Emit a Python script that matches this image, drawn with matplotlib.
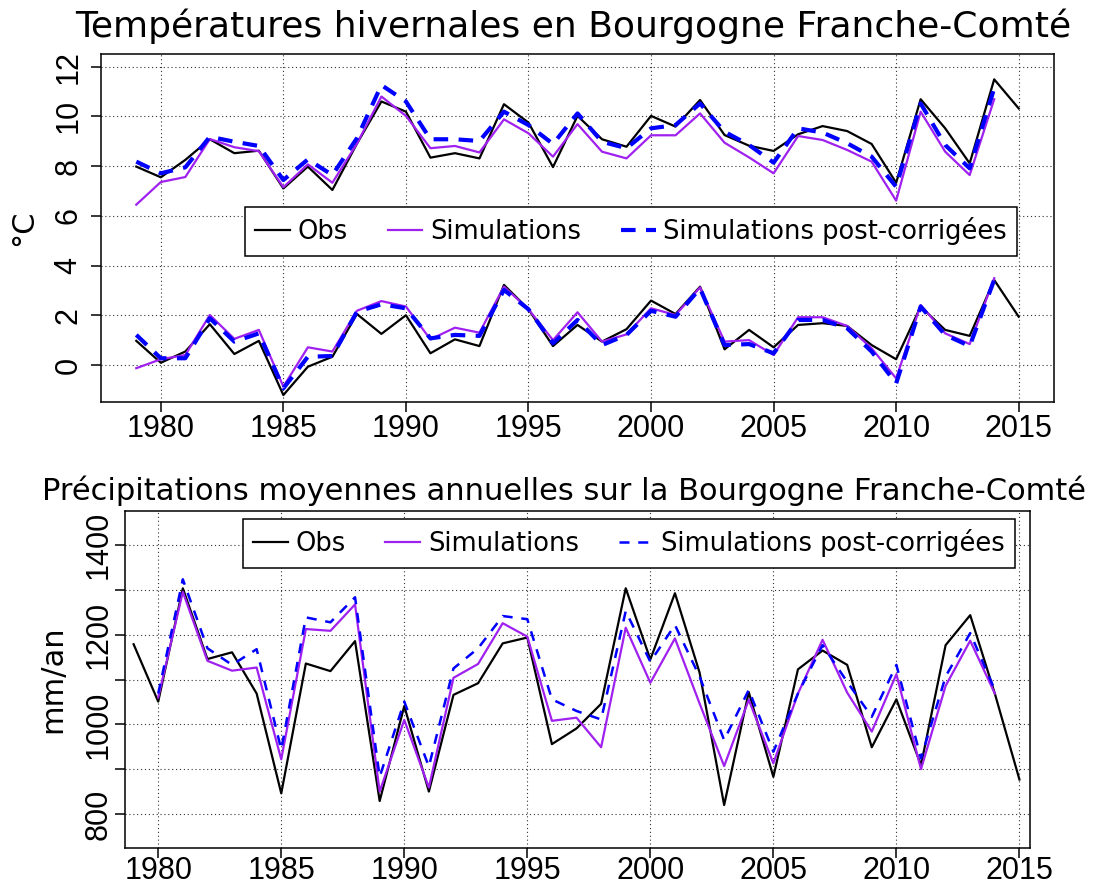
import numpy as np
import matplotlib
matplotlib.use("Agg")
import matplotlib.pyplot as plt

years = np.arange(1979, 2016)

# Températures hivernales - groupe haut (Tmax)
tx_obs = [7.98, 7.55, 8.25, 9.08, 8.52, 8.62, 7.10, 7.98, 7.04, 8.90, 10.60, 10.19,
          8.34, 8.52, 8.31, 10.49, 9.75, 7.96, 10.02, 9.08, 8.78, 10.02, 9.59, 10.66,
          9.25, 8.82, 8.61, 9.28, 9.61, 9.41, 8.89, 7.33, 10.69, 9.52, 8.11, 11.49, 10.32]
tx_sim = [6.45, 7.36, 7.56, 9.09, 8.76, 8.60, 7.15, 8.07, 7.33, 8.90, 10.80, 10.02,
          8.72, 8.81, 8.55, 9.88, 9.32, 8.38, 9.69, 8.58, 8.31, 9.24, 9.24, 10.12,
          8.94, 8.35, 7.71, 9.21, 9.05, 8.65, 8.18, 6.61, 10.19, 8.58, 7.64, 10.69]
tx_cor = [8.18, 7.71, 7.95, 9.18, 8.98, 8.81, 7.44, 8.27, 7.64, 9.12, 11.26, 10.60,
          9.08, 9.08, 9.01, 10.19, 9.65, 8.89, 10.12, 8.98, 8.72, 9.52, 9.65, 10.52,
          9.38, 8.85, 8.14, 9.52, 9.35, 8.92, 8.38, 7.17, 10.52, 8.85, 7.91, 11.13]

# Températures hivernales - groupe bas (Tmin)
tn_obs = [0.97, 0.09, 0.54, 1.64, 0.44, 0.97, -1.21, -0.07, 0.33, 2.05, 1.25, 2.00,
          0.47, 1.03, 0.76, 3.22, 2.24, 0.76, 1.61, 0.94, 1.44, 2.59, 2.05, 3.15,
          0.63, 1.41, 0.71, 1.61, 1.68, 1.57, 0.80, 0.23, 2.35, 1.41, 1.17, 3.42, 1.94]
tn_sim = [-0.13, 0.23, 0.40, 2.01, 1.05, 1.41, -0.87, 0.71, 0.54, 2.18, 2.57, 2.35,
          1.03, 1.50, 1.30, 3.15, 2.24, 1.00, 2.12, 0.94, 1.23, 2.28, 2.01, 3.12,
          0.94, 1.00, 0.40, 1.92, 1.92, 1.57, 0.67, -0.54, 2.41, 1.27, 0.84, 3.49]
tn_cor = [1.21, 0.27, 0.27, 1.88, 0.94, 1.27, -0.94, 0.33, 0.36, 2.14, 2.44, 2.28,
          1.07, 1.21, 1.17, 3.02, 2.24, 0.87, 1.81, 0.80, 1.21, 2.18, 1.94, 3.08,
          0.80, 0.84, 0.47, 1.81, 1.81, 1.48, 0.54, -0.74, 2.35, 1.21, 0.76, 3.42]

# Précipitations annuelles (mm/an)
pr_obs = [1179, 1051, 1304, 1146, 1161, 1069, 846, 1136, 1119, 1186, 829, 1041,
          850, 1066, 1092, 1181, 1194, 956, 991, 1046, 1304, 1145, 1293, 1116,
          820, 1072, 883, 1123, 1165, 1133, 949, 1056, 909, 1177, 1244, 1069, 877]
pr_sim = [1060, 1296, 1142, 1120, 1127, 922, 1213, 1209, 1268, 850, 1010,
          859, 1104, 1135, 1226, 1196, 1008, 1015, 949, 1216, 1093, 1192, 1047,
          907, 1055, 913, 1069, 1189, 1071, 984, 1112, 900, 1086, 1187, 1069]
pr_cor = [1069, 1324, 1170, 1133, 1168, 944, 1239, 1228, 1284, 883, 1051,
          906, 1125, 1170, 1242, 1235, 1056, 1030, 1011, 1253, 1140, 1222, 1107,
          965, 1077, 939, 1069, 1177, 1095, 1017, 1133, 924, 1107, 1204, 1077]

labels = ["Obs", "Simulations", "Simulations post-corrigées"]
PURPLE = "#A020F0"
TICKFONT = "Liberation Sans"

fig = plt.figure(figsize=(11.09, 8.92), dpi=100)
W, H = 1109, 892


def px_axes(l, t, r, b):
    return fig.add_axes([l / W, 1 - b / H, (r - l) / W, (b - t) / H])


def style(ax, ypad, xpad):
    for s in ax.spines.values():
        s.set_color("black")
        s.set_linewidth(1.1)
    ax.tick_params(direction="out", length=7.5, width=1.1)
    ax.tick_params(axis="y", pad=ypad)
    ax.tick_params(axis="x", pad=xpad)
    ax.grid(True, linestyle=(0, (1, 2.5)), color="#333333", linewidth=0.8)
    ax.set_axisbelow(True)
    for lab in ax.get_xticklabels() + ax.get_yticklabels():
        lab.set_fontfamily(TICKFONT)
        lab.set_fontsize(22)
    for lab in ax.get_yticklabels():
        lab.set_rotation(90)
        lab.set_va("center")


def legend(ax, handles, anchor):
    leg = ax.legend(handles, labels, ncol=3, loc="upper left", bbox_to_anchor=anchor,
                    borderaxespad=0, fontsize=18.5, fancybox=False, framealpha=1,
                    edgecolor="black", handlelength=1.35, columnspacing=1.55,
                    handletextpad=0.3, borderpad=0.4)
    leg.get_frame().set_linewidth(1.1)
    return leg


# --- panneau du haut
ax1 = px_axes(101, 54, 1054, 402)
l_obs, = ax1.plot(years, tx_obs, color="black", lw=1.6)
ax1.plot(years, tn_obs, color="black", lw=1.6)
l_sim, = ax1.plot(years[:len(tx_sim)], tx_sim, color=PURPLE, lw=1.6)
ax1.plot(years[:len(tn_sim)], tn_sim, color=PURPLE, lw=1.6)
l_cor, = ax1.plot(years[:len(tx_cor)], tx_cor, color="blue", lw=3, dashes=(3.5, 2.5))
ax1.plot(years[:len(tn_cor)], tn_cor, color="blue", lw=3, dashes=(3.5, 2.5))
ax1.set_xlim(1977.56, 2016.44)
ax1.set_ylim(-1.49, 12.51)
ax1.set_xticks(np.arange(1980, 2016, 5))
ax1.set_yticks(np.arange(0, 13, 2))
style(ax1, ypad=5, xpad=1)
ax1.set_ylabel("°C", fontsize=22, labelpad=11)
fig.text(573 / W, 1 - 36.7 / H, "Températures hivernales en Bourgogne Franche-Comté",
         fontsize=26, ha="center", va="baseline")
legend(ax1, [l_obs, l_sim, l_cor], (0.151, 0.560))

# --- panneau du bas
ax2 = px_axes(125, 511, 1030, 848)
b_obs, = ax2.plot(years, pr_obs, color="black", lw=1.6)
b_sim, = ax2.plot(years[1:1 + len(pr_sim)], pr_sim, color=PURPLE, lw=1.6)
b_cor, = ax2.plot(years[1:1 + len(pr_cor)], pr_cor, color="blue", lw=1.8, dashes=(4, 3.5))
ax2.set_xlim(1978.65, 2015.43)
ax2.set_ylim(724, 1476.6)
ax2.set_xticks(np.arange(1980, 2016, 5))
ax2.set_yticks(np.arange(800, 1401, 100))
ax2.set_yticklabels(["800", "", "1000", "", "1200", "", "1400"])
style(ax2, ypad=0.5, xpad=-2)
ax2.set_ylabel("mm/an", fontsize=22, labelpad=12)
fig.text(564 / W, 1 - 500 / H, "Précipitations moyennes annuelles sur la Bourgogne Franche-Comté",
         fontsize=22, ha="center", va="baseline")
legend(ax2, [b_obs, b_sim, b_cor], (0.130, 0.976))

fig.savefig("out.png", dpi=100)
